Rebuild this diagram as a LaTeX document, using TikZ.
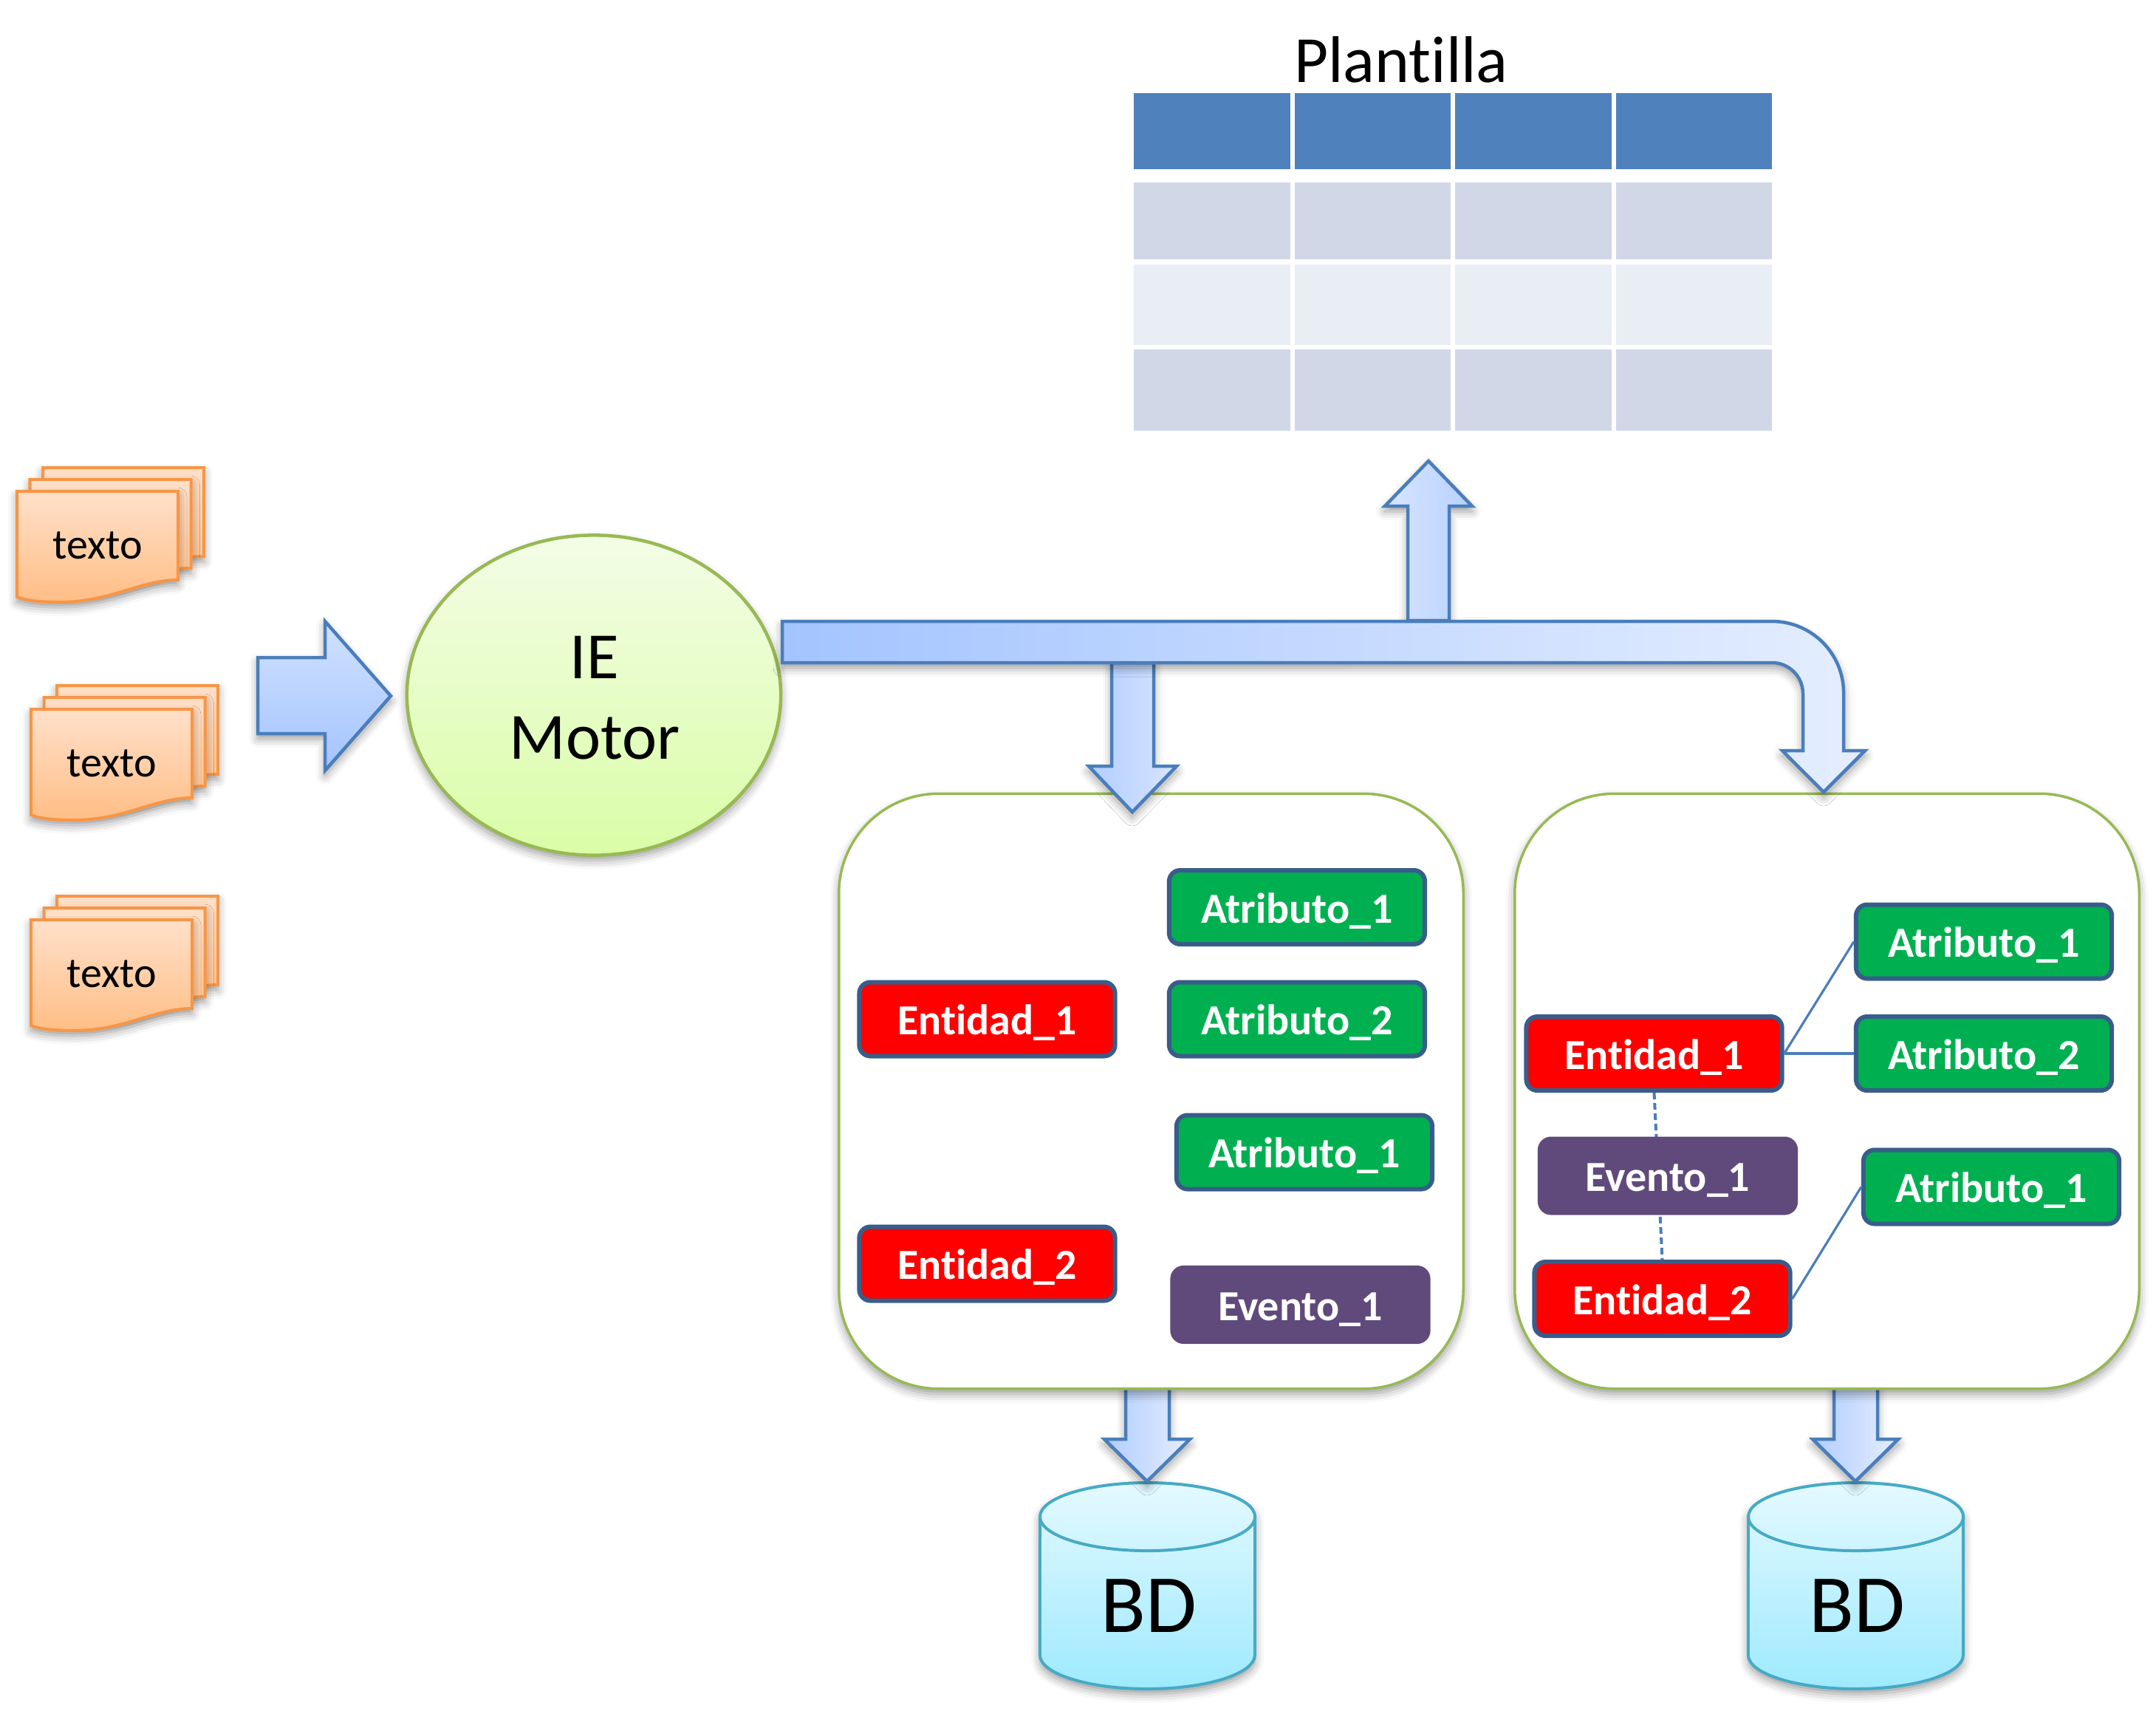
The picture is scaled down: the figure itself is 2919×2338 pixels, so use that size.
\documentclass[tikz,border=0pt]{standalone}
\usepackage{fontspec}
\setmainfont{Carlito}[Ligatures=NoCommon]
\usetikzlibrary{calc, shapes.geometric, shadows.blur}

\definecolor{arrowblue}{HTML}{4A7EBB}
\definecolor{barleft}{HTML}{A3C4FF}
\definecolor{barright}{HTML}{E5EEFF}
\definecolor{headblue}{HTML}{4F81BD}
\definecolor{rowdark}{HTML}{D0D8E8}
\definecolor{rowlight}{HTML}{E9EDF4}
\definecolor{docline}{HTML}{F79646}
\definecolor{doctop}{HTML}{FFE0C9}
\definecolor{docbottom}{HTML}{FFBE86}
\definecolor{motorline}{HTML}{98B954}
\definecolor{motortop}{HTML}{F3FDE6}
\definecolor{motorbottom}{HTML}{DAFDA7}
\definecolor{dbline}{HTML}{46AAC5}
\definecolor{dbtop}{HTML}{E4F9FF}
\definecolor{dbbottom}{HTML}{9EEAFF}
\definecolor{boxline}{HTML}{385D8A}
\definecolor{attrgreen}{HTML}{00B050}
\definecolor{eventpurple}{HTML}{604A7B}

\begin{document}
\begin{tikzpicture}[
    x=0.01cm,
    y=-0.01cm,
    softshadow/.style={blur shadow={shadow xshift=0cm, shadow yshift=-.07cm, shadow blur radius=.12cm, shadow opacity=40}},
    blockarrow/.style={draw=arrowblue, line width=.045cm, softshadow},
    docsheet/.style={draw=docline, line width=.04cm, top color=doctop, bottom color=docbottom, softshadow},
    dbbody/.style={draw=dbline, line width=.04cm, top color=dbtop, bottom color=dbbottom, softshadow},
    frame/.style={draw=motorline, line width=.035cm, fill=white, rounded corners=1.35cm, minimum width=8.45cm, minimum height=8.05cm, softshadow},
    tagbox/.style={rounded corners=.15cm, line width=.06cm, minimum width=3.46cm, minimum height=1.0cm, text=white,
        text height=.52cm, text depth=.1cm, font=\fontsize{16.5}{19}\selectfont\bfseries},
    entidad/.style={tagbox, draw=boxline, fill=red},
    atributo/.style={tagbox, draw=boxline, fill=attrgreen},
    evento/.style={tagbox, draw=eventpurple, fill=eventpurple},
    link/.style={draw=arrowblue, line width=.032cm},
    bigtext/.style={font=\fontsize{25.4}{31}\selectfont}
]

    \useasboundingbox (0, 0) rectangle (2919, 2338);

    % Plantilla table
    \node[bigtext, anchor=base] (plantilla) at (1897, 111) {Plantilla};
    \foreach \ytop/\ybot/\col in {125.5/229/headblue, 247/351/rowdark, 357.5/467/rowlight, 473/583/rowdark} {
        \foreach \xl/\xr in {1535/1747, 1753/1964, 1970/2182, 2188/2399} {
            \fill[\col] (\xl, \ytop) rectangle (\xr, \ybot);
        }
    }

    % Text stacks (Left Side)
    \foreach \dx/\dy/\n in {0/0/1, 19/295/2, 19/580/3} {
        \begin{scope}[shift={(\dx, \dy)}]
            \foreach \s in {2, 1, 0} {
                \draw[docsheet, shift={(17.5*\s, -16*\s)}]
                    (23, 665) -- (241, 665) -- (241, 785)
                    .. controls (190, 785) and (150, 815) .. (81, 815)
                    .. controls (55, 815) and (35, 813) .. (23, 808) -- cycle;
            }
            \node[font=\fontsize{16.5}{19}\selectfont, anchor=base] (texto\n) at (132, 756) {texto};
        \end{scope}
    }

    % Input arrow and engine
    \draw[blockarrow, top color=barright!70!barleft, bottom color=barleft]
        (349, 890) -- (440, 890) -- (440, 841) -- (529, 942) -- (440, 1043) -- (440, 993) -- (349, 993) -- cycle;
    \node[ellipse, draw=motorline, line width=.045cm, top color=motortop, bottom color=motorbottom,
        minimum width=5.06cm, minimum height=4.33cm, inner sep=0pt, softshadow]
        (motor) at (804, 941) {};
    \node[bigtext, align=center] (motorlabel) at (805, 945) {IE\\Motor};

    % Databases and their arrows
    \foreach \dx/\n in {0/A, 959/B} {
        \begin{scope}[shift={(\dx, 0)}]
            \draw[dbbody] (1408, 2053) arc[start angle=180, end angle=0, x radius=1.455cm, y radius=.46cm]
                -- (1699, 2240) arc[start angle=0, end angle=-180, x radius=1.455cm, y radius=.46cm] -- cycle;
            \draw[draw=dbline, line width=.04cm] (1408, 2053) arc[start angle=180, end angle=360, x radius=1.455cm, y radius=.46cm];
            \node[font=\fontsize{31.8}{36}\selectfont, anchor=base] (bd\n) at (1555, 2209) {BD};
            \draw[blockarrow, left color=barleft!85!white, right color=barright]
                (1524, 1877) -- (1583, 1877) -- (1583, 1948) -- (1611, 1948) -- (1553, 2005) -- (1495, 1948) -- (1524, 1948) -- cycle;
        \end{scope}
    }

    % Result frames
    \node[frame] (frameA) at (1558.5, 1477) {};
    \node[frame] (frameB) at (2473.5, 1477) {};

    % Left frame contents
    \node[atributo] (atrA1) at (1756, 1228) {Atributo\_1};
    \node[atributo] (atrA2) at (1756, 1379.5) {Atributo\_2};
    \node[atributo] (atrA3) at (1766, 1559.5) {Atributo\_1};
    \node[entidad] (entA1) at (1336.5, 1379.5) {Entidad\_1};
    \node[entidad] (entA2) at (1336.5, 1710.5) {Entidad\_2};
    \node[evento] (eveA) at (1760.5, 1766) {Evento\_1};

    % Right frame contents
    \node[atributo] (atrB1) at (2686, 1274.5) {Atributo\_1};
    \node[atributo] (atrB2) at (2686, 1426) {Atributo\_2};
    \node[atributo] (atrB3) at (2696, 1606.5) {Atributo\_1};
    \node[entidad] (entB1) at (2239.5, 1426) {Entidad\_1};
    \node[entidad] (entB2) at (2250.5, 1758) {Entidad\_2};

    \draw[link] (entB1.east) -- (atrB1.west);
    \draw[link] (entB1.east) -- (atrB2.west);
    \draw[link] (entB2.east) -- (atrB3.west);
    \draw[link, line width=.04cm, dash pattern=on .09cm off .05cm] (entB1.south) -- (entB2.north);
    \node[evento] (eveB) at (2258, 1591.5) {Evento\_1};

    % Output arrows (Top and Left Frame)
    \draw[blockarrow, left color=barright!80!barleft, right color=barleft!70!barright]
        (1906, 840) -- (1906, 685) -- (1875, 685) -- (1934, 624) -- (1993, 685) -- (1962, 685) -- (1962, 840) -- cycle;
    \draw[blockarrow, left color=barleft!85!white, right color=barright!80!barleft]
        (1505, 897) -- (1505, 1037) -- (1474, 1037) -- (1533, 1099) -- (1593, 1037) -- (1562, 1037) -- (1562, 897) -- cycle;

    % Main bar, bending down to the right frame
    \draw[blockarrow, left color=barleft, right color=barright]
        (1059, 841) -- (2399, 841) arc[start angle=90, end angle=0, radius=.97cm]
        -- (2496, 1016) -- (2525, 1016) -- (2469, 1072) -- (2413, 1016) -- (2441, 1016) -- (2441, 939)
        arc[start angle=0, end angle=90, radius=.42cm] -- (1059, 897) -- cycle;

\end{tikzpicture}
\end{document}
